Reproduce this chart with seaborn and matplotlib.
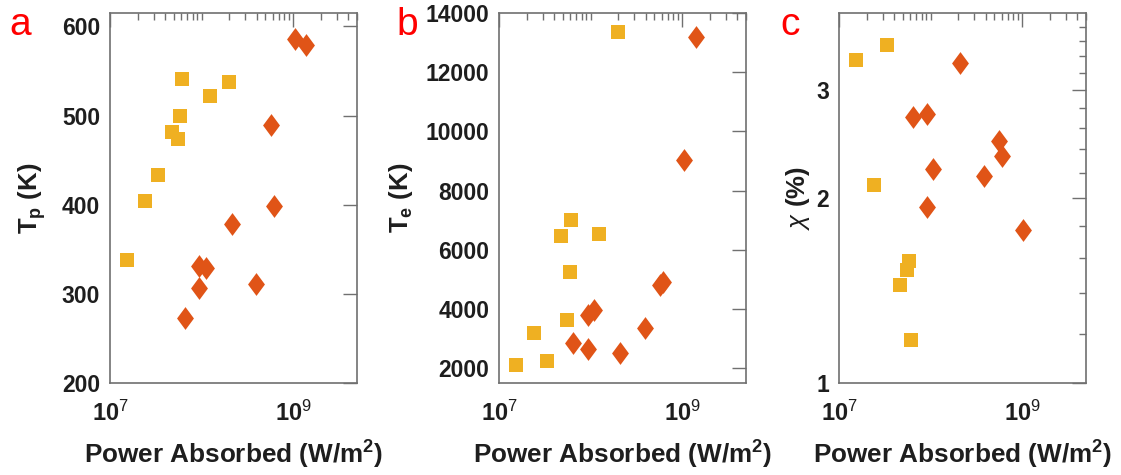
import numpy as np
import pandas as pd
import matplotlib
matplotlib.use("Agg")
import matplotlib.pyplot as plt
from matplotlib.path import Path
from matplotlib.ticker import FixedLocator, FixedFormatter, LogLocator, NullFormatter
import seaborn as sns

# ---------------- data ----------------
# panel a : particle temperature Tp (K)
a_sq_power = [1.52e7, 2.42e7, 3.33e7, 4.73e7, 5.6e7, 5.84e7, 6.14e7, 1.245e8, 2.01e8]
a_sq_tp    = [338, 404, 433, 482, 474, 499, 541, 522, 538]
a_di_power = [6.62e7, 9.27e7, 9.27e7, 1.115e8, 2.13e8, 3.94e8, 5.69e8, 6.19e8, 1.05e9, 1.40e9]
a_di_tp    = [273, 307, 331, 329, 378, 311, 489, 399, 586, 579]

# panel b : electron temperature Te (K)
b_sq_power = [1.53e7, 2.42e7, 3.33e7, 4.73e7, 5.6e7, 5.9e7, 6.14e7, 1.245e8, 2.01e8]
b_sq_te    = [2113, 3183, 2259, 6451, 3634, 5234, 7014, 6541, 13346]
b_di_power = [6.5e7, 9.27e7, 9.27e7, 1.09e8, 2.11e8, 3.90e8, 5.69e8, 6.17e8, 1.04e9, 1.41e9]
b_di_te    = [2845, 2642, 3803, 3972, 2507, 3352, 4817, 4896, 9020, 13189]

# panel c : chi (%)
c_sq_power = [1.53e7, 3.31e7, 2.43e7, 4.67e7, 5.47e7, 5.75e7, 6.05e7]
c_sq_chi   = [3.35, 3.55, 2.10, 1.442, 1.525, 1.58, 1.173]
c_di_power = [6.47e7, 9.2e7, 9.2e7, 1.07e8, 2.09e8, 3.85e8, 5.61e8, 6.0e8, 1.03e9]
c_di_chi   = [2.71, 2.74, 1.934, 2.23, 3.32, 2.17, 2.48, 2.34, 1.776]

panel_letters = ["a", "b", "c"]
y_labels = [r"T$_\mathbf{p}$ (K)", r"T$_\mathbf{e}$ (K)", r"$\chi$ (%)"]
x_label = r"Power Absorbed (W/m$^{\mathbf{2}}$)"

SQ_COLOR = "#EFB022"
DI_COLOR = "#E05417"

# ---------------- style ----------------
sns.set_theme(style="white")
plt.rcParams["font.family"] = ["Liberation Sans", "DejaVu Sans"]
plt.rcParams["mathtext.fontset"] = "custom"
plt.rcParams["mathtext.rm"] = "Liberation Sans"
plt.rcParams["mathtext.bf"] = "Liberation Sans:bold"
plt.rcParams["mathtext.it"] = "Liberation Sans:italic"

SPINE = "#707070"
TXT = "#1e1e1e"

W, H = 1121, 475
fig = plt.figure(figsize=(W / 100, H / 100), dpi=100)
fig.patch.set_facecolor("white")

lefts = [110, 499, 839]
ax_w, ax_top, ax_bot = 247, 13, 383

diamond = Path([(0, 1), (0.74, 0), (0, -1), (-0.74, 0), (0, 1)],
               [Path.MOVETO, Path.LINETO, Path.LINETO, Path.LINETO, Path.CLOSEPOLY])

datasets = [
    (a_sq_power, a_sq_tp, a_di_power, a_di_tp),
    (b_sq_power, b_sq_te, b_di_power, b_di_te),
    (c_sq_power, c_sq_chi, c_di_power, c_di_chi),
]
letter_x = [9, 396, 780]
ylabel_x = [-0.252, -0.342, -0.108]

for i, (sqx, sqy, dix, diy) in enumerate(datasets):
    ax = fig.add_axes([lefts[i] / W, (H - ax_bot) / H, ax_w / W, (ax_bot - ax_top) / H])
    sq = pd.DataFrame({"power": sqx, "val": sqy})
    di = pd.DataFrame({"power": dix, "val": diy})
    sns.scatterplot(data=sq, x="power", y="val", ax=ax, marker="s", s=100,
                    color=SQ_COLOR, linewidth=0, zorder=3)
    sns.scatterplot(data=di, x="power", y="val", ax=ax, marker=diamond, s=270,
                    color=DI_COLOR, linewidth=0, zorder=4)

    ax.set_xscale("log")
    ax.set_xlim(1e7, 5e9)
    ax.xaxis.set_major_locator(FixedLocator([1e7, 1e9]))
    ax.xaxis.set_major_formatter(FixedFormatter([r"$\mathbf{10}^{7}$", r"$\mathbf{10}^{9}$"]))
    ax.xaxis.set_minor_locator(LogLocator(base=10, subs=np.arange(1, 10), numticks=30))
    ax.xaxis.set_minor_formatter(NullFormatter())

    if i == 0:
        ax.set_ylim(200, 615)
        ax.yaxis.set_major_locator(FixedLocator([200, 300, 400, 500, 600]))
    elif i == 1:
        ax.set_ylim(1500, 14000)
        ax.yaxis.set_major_locator(FixedLocator(list(range(2000, 14001, 2000))))
    else:
        ax.set_yscale("log")
        ax.set_ylim(1, 4)
        ax.yaxis.set_major_locator(FixedLocator([1, 2, 3]))
        ax.yaxis.set_major_formatter(FixedFormatter(["1", "2", "3"]))
        ax.yaxis.set_minor_locator(FixedLocator([1.2, 1.4, 1.6, 1.8, 2.2, 2.4, 2.6, 2.8,
                                                 3.2, 3.4, 3.6, 3.8]))
        ax.yaxis.set_minor_formatter(NullFormatter())

    ax.tick_params(axis="both", which="major", direction="in", length=10, width=1.0,
                   color=SPINE, top=True, right=True, labelcolor=TXT)
    ax.tick_params(axis="both", which="minor", direction="in", length=5, width=1.0,
                   color=SPINE, top=True, right=True)
    ax.tick_params(axis="y", which="major", pad=7, labelsize=16.5)
    ax.tick_params(axis="x", which="major", pad=13, labelsize=17)
    for lab in ax.get_yticklabels():
        lab.set_fontweight("bold")
    for sp in ax.spines.values():
        sp.set_color(SPINE)
        sp.set_linewidth(1.2)
        sp.set_visible(True)

    ax.set_xlabel(x_label, fontsize=18.8, fontweight="bold", color=TXT, labelpad=9)
    ax.set_ylabel(y_labels[i], fontsize=18.5, fontweight="bold", color=TXT)
    ax.yaxis.set_label_coords(ylabel_x[i], 0.5)
    ax.grid(False)

    fig.text(letter_x[i] / W, 1 - 35 / H, panel_letters[i], color="#ff0000",
             fontsize=28, ha="left", va="baseline")

fig.savefig("out.png", dpi=100, facecolor="white")
